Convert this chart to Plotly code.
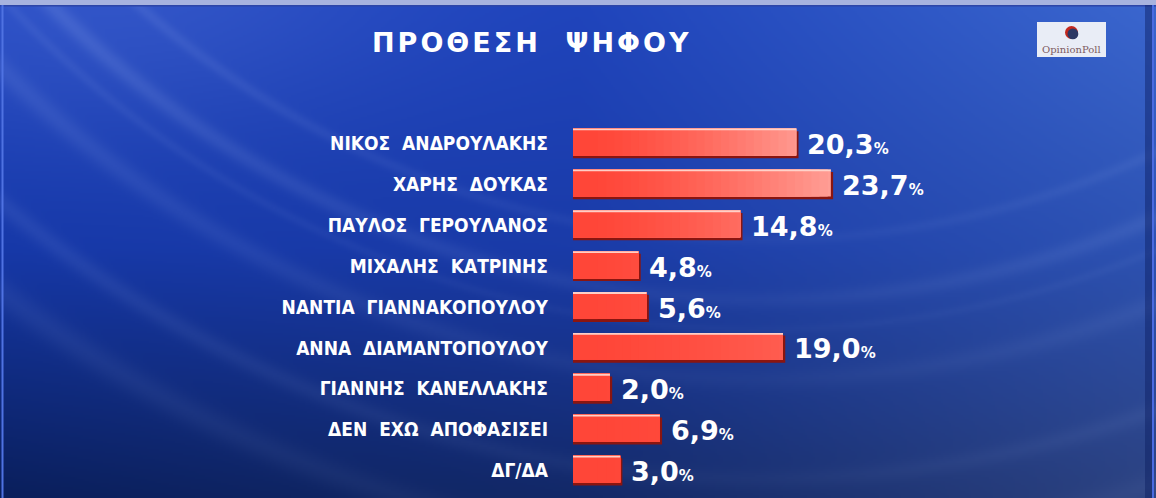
import numpy as np
import zlib
import struct
import base64
import plotly.graph_objects as go

# ---------------- data ----------------
candidates = [
    "ΝΙΚΟΣ ΑΝΔΡΟΥΛΑΚΗΣ",
    "ΧΑΡΗΣ ΔΟΥΚΑΣ",
    "ΠΑΥΛΟΣ ΓΕΡΟΥΛΑΝΟΣ",
    "ΜΙΧΑΛΗΣ ΚΑΤΡΙΝΗΣ",
    "ΝΑΝΤΙΑ ΓΙΑΝΝΑΚΟΠΟΥΛΟΥ",
    "ΑΝΝΑ ΔΙΑΜΑΝΤΟΠΟΥΛΟΥ",
    "ΓΙΑΝΝΗΣ ΚΑΝΕΛΛΑΚΗΣ",
    "ΔΕΝ ΕΧΩ ΑΠΟΦΑΣΙΣΕΙ",
    "ΔΓ/ΔΑ",
]
values = [20.3, 23.7, 14.8, 4.8, 5.6, 19.0, 2.0, 6.9, 3.0]
title_text = "ΠΡΟΘΕΣΗ ΨΗΦΟΥ"
source_text = "OpinionPoll"

# ---------------- layout constants ----------------
FIG_W, FIG_H = 1156, 498
X_DOMAIN = [573 / FIG_W, 1.0]
Y_DOMAIN = [7 / FIG_H, 1 - 123 / FIG_H]
STUB = 1.63          # bars start a little before zero
PX_PER_UNIT = 10.18
X_RANGE = [-STUB, -STUB + (FIG_W - 573) / PX_PER_UNIT]


def px(x):
    return x / FIG_W


def py(y):
    return 1 - y / FIG_H


# ---------------- background image ----------------
def make_background():
    W, H = 578, 249
    xs = np.linspace(0, FIG_W, W)[None, :]
    ys = np.linspace(0, FIG_H, H)[:, None]
    gx = np.array([0, 578, 1156], float)
    gy = np.array([0, 249, 498], float)
    hexgrid = [
        ["#2348c4", "#1f44bc", "#3b67cf"],
        ["#1638a8", "#1a3ba8", "#2d52b2"],
        ["#0a1f5c", "#132968", "#2c4280"],
    ]
    grid = np.array([[[int(h[i:i + 2], 16) for i in (1, 3, 5)] for h in row]
                     for row in hexgrid], float)
    rows = []
    for r in range(3):
        ch = [np.interp(xs[0], gx, grid[r, :, c]) for c in range(3)]
        rows.append(np.stack(ch, -1))
    rows = np.stack(rows, 0)
    img = np.empty((H, W, 3))
    for c in range(3):
        for i in range(W):
            img[:, i, c] = np.interp(ys[:, 0], gy, rows[:, i, c])
    # light streaks (arcs)
    cx, cy = 760.0, -700.0
    d = np.sqrt((xs - cx) ** 2 + (ys - cy) ** 2)
    side = 0.35 + 0.65 * np.clip(np.abs(xs - cx) / 700.0, 0, 1)
    inten = np.zeros_like(d)
    for R, w, a in [(940, 6, 0.09), (1000, 9, 0.12), (1030, 5, 0.06),
                    (1080, 11, 0.09), (1180, 10, 0.08), (1250, 14, 0.07)]:
        inten += a * np.exp(-((d - R) / w) ** 2)
    glow = 0.10 * np.exp(-(((xs - 120) / 260) ** 2 + ((ys - 0) / 140) ** 2))
    inten = np.clip(inten * side + glow, 0, 0.5)
    light = np.array([190, 210, 255], float)
    img = img * (1 - inten[..., None]) + light * inten[..., None]
    arr = np.clip(img, 0, 255).astype(np.uint8)
    raw = b"".join(b"\x00" + arr[i].tobytes() for i in range(H))

    def chunk(t, dta):
        return (struct.pack(">I", len(dta)) + t + dta +
                struct.pack(">I", zlib.crc32(t + dta) & 0xFFFFFFFF))

    png = (b"\x89PNG\r\n\x1a\n" +
           chunk(b"IHDR", struct.pack(">IIBBBBB", W, H, 8, 2, 0, 0, 0)) +
           chunk(b"IDAT", zlib.compress(raw, 9)) + chunk(b"IEND", b""))
    return "data:image/png;base64," + base64.b64encode(png).decode()


fig = go.Figure()

# ---------------- bars ----------------
n = len(values)
rows_idx = np.arange(n)

# shadow (dark red, slightly lower and longer)
fig.add_trace(go.Bar(
    y=candidates, x=[v + STUB + 0.22 for v in values], base=-STUB,
    orientation="h", offset=-0.30, width=0.665,
    marker=dict(color="#8a1510", line=dict(width=0)),
    hoverinfo="skip", showlegend=False))

# gradient made of stacked overlay bars
red = np.array([255, 70, 56], float)
pink = np.array([255, 172, 164], float)
N_STEPS = 30
top = max(values) + 0.5
thresholds = np.linspace(0, top, N_STEPS + 1)[1:]
row_gain = np.clip(1.0 - 0.14 * rows_idx, 0.12, 1.0)
for k in range(N_STEPS - 1, -1, -1):
    mid = (thresholds[k] - top / N_STEPS / 2) / max(values)
    f = np.clip(mid, 0, 1) ** 1.4
    cols = []
    for r in rows_idx:
        c = red + (pink - red) * f * row_gain[r]
        cols.append("rgb(%d,%d,%d)" % tuple(c.round().astype(int)))
    fig.add_trace(go.Bar(
        y=candidates, x=[min(v, thresholds[k]) + STUB for v in values], base=-STUB,
        orientation="h", offset=-0.365, width=0.66,
        marker=dict(color=cols, line=dict(width=0)),
        hoverinfo="skip" if k else None,
        customdata=values, hovertemplate="%{y}: %{customdata}%<extra></extra>",
        showlegend=False))

# top highlight
fig.add_trace(go.Bar(
    y=candidates, x=[v + STUB for v in values], base=-STUB,
    orientation="h", offset=-0.365, width=0.045,
    marker=dict(color="rgba(255,214,206,0.95)", line=dict(width=0)),
    hoverinfo="skip", showlegend=False))

# ---------------- value labels ----------------
for name, v in zip(candidates, values):
    txt = f"{v:.1f}".replace(".", ",")
    fig.add_annotation(
        x=v, y=name, xref="x", yref="y", xanchor="left", yanchor="middle",
        xshift=9, yshift=-1, showarrow=False,
        text=f"{txt}<span style='font-size:15px'>%</span>",
        font=dict(family="DejaVu Sans", size=27, color="white", weight="bold"))

# ---------------- title ----------------
title_display = title_text.replace(" ", "\u00a0\u00a0")
fig.add_annotation(
    x=px(531.5), y=py(43), xref="paper", yref="paper",
    xanchor="center", yanchor="middle", showarrow=False,
    text=f"<span style='letter-spacing:3px'>{title_display}</span>",
    font=dict(family="DejaVu Sans", size=27, color="white", weight="bold"))

# ---------------- logo ----------------
shapes = []
shapes.append(dict(type="rect", xref="paper", yref="paper",
                   x0=px(1037), x1=px(1106), y0=py(57), y1=py(22),
                   fillcolor="#e9edf6", line=dict(width=0), layer="above"))
shapes.append(dict(type="circle", xref="paper", yref="paper",
                   x0=px(1065), x1=px(1078), y0=py(39), y1=py(26),
                   fillcolor="#c3281e", line=dict(width=0), layer="above"))
shapes.append(dict(type="circle", xref="paper", yref="paper",
                   x0=px(1067.5), x1=px(1078.3), y0=py(39.3), y1=py(28.5),
                   fillcolor="#2d3863", line=dict(width=0), layer="above"))
fig.add_annotation(
    x=px(1071.5), y=py(49.5), xref="paper", yref="paper",
    xanchor="center", yanchor="middle", showarrow=False,
    text=source_text,
    font=dict(family="DejaVu Serif", size=10, color="#7d5b60"))

# ---------------- frame borders ----------------
shapes += [
    dict(type="rect", xref="paper", yref="paper", x0=0, x1=1, y0=py(5), y1=1,
         fillcolor="#a7b3df", line=dict(width=0), layer="above"),
    dict(type="rect", xref="paper", yref="paper", x0=0, x1=1, y0=py(6.5), y1=py(5),
         fillcolor="#2c45a8", line=dict(width=0), layer="above"),
    dict(type="rect", xref="paper", yref="paper", x0=px(1.5), x1=px(3.5), y0=0, y1=py(5),
         fillcolor="#4f72e2", line=dict(width=0), layer="above"),
    dict(type="rect", xref="paper", yref="paper", x0=px(1145), x1=px(1152), y0=0, y1=py(5),
         fillcolor="rgba(12,28,95,0.45)", line=dict(width=0), layer="above"),
    dict(type="rect", xref="paper", yref="paper", x0=px(1152), x1=px(1154), y0=0, y1=py(5),
         fillcolor="#4a6be0", line=dict(width=0), layer="above"),
]

tick_text = [c.replace(" ", "\u00a0\u00a0") for c in candidates]

fig.update_layout(
    width=FIG_W, height=FIG_H,
    margin=dict(l=0, r=0, t=0, b=0, autoexpand=False),
    paper_bgcolor="#1a3aa8", plot_bgcolor="rgba(0,0,0,0)",
    barmode="overlay", bargap=0.3,
    showlegend=False,
    shapes=shapes,
    images=[dict(source=make_background(), xref="paper", yref="paper",
                 x=0, y=1, sizex=1, sizey=1, xanchor="left", yanchor="top",
                 sizing="stretch", layer="below")],
    xaxis=dict(domain=X_DOMAIN, range=X_RANGE, visible=False, fixedrange=True),
    yaxis=dict(domain=Y_DOMAIN, type="category", categoryarray=candidates,
               categoryorder="array", range=[len(candidates) - 0.5, -0.5],
               tickvals=candidates, ticktext=tick_text,
               showgrid=False, zeroline=False, showline=False, ticks="",
               ticklabelstandoff=24, automargin=False, fixedrange=True,
               tickfont=dict(family="DejaVu Sans Condensed, DejaVu Sans",
                             size=19, color="white", weight="bold")),
    hovermode="closest",
)

fig.write_html(
    "out.html",
    config={"displayModeBar": False},
    post_script="document.body.style.margin='0';document.body.style.overflow='hidden';",
)
